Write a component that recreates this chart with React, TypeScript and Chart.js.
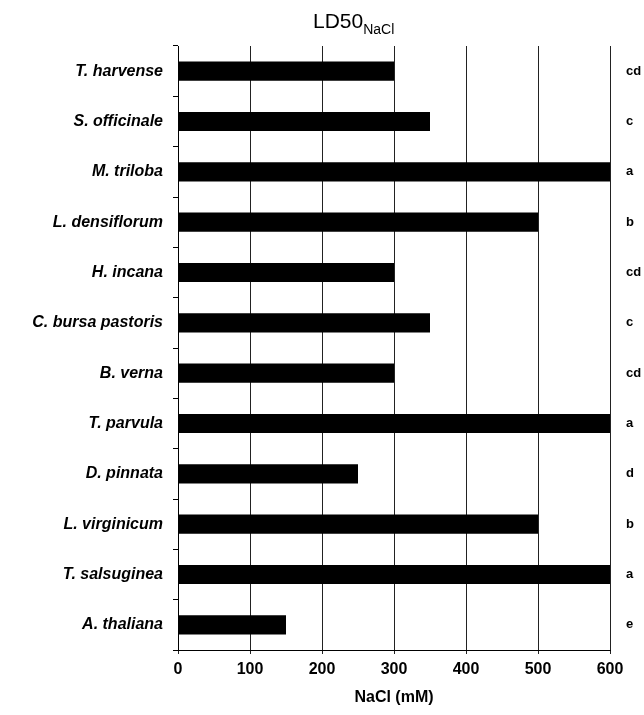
import React, { useEffect, useRef } from "react";
import { Chart, registerables } from "chart.js";

Chart.register(...registerables);

const species = [
  "T. harvense",
  "S. officinale",
  "M. triloba",
  "L. densiflorum",
  "H. incana",
  "C. bursa pastoris",
  "B. verna",
  "T. parvula",
  "D. pinnata",
  "L. virginicum",
  "T. salsuginea",
  "A. thaliana",
];
const ld50Values = [300, 350, 600, 500, 300, 350, 300, 600, 250, 500, 600, 150];
const groupLetters = ["cd", "c", "a", "b", "cd", "c", "cd", "a", "d", "b", "a", "e"];
const xTicks = [0, 100, 200, 300, 400, 500, 600];

const FONT = "'Liberation Sans', Arial, sans-serif";

const titlePlugin = {
  id: "ld50Title",
  afterDraw(chart: any) {
    const ctx = chart.ctx;
    ctx.save();
    ctx.fillStyle = "#000";
    ctx.textBaseline = "alphabetic";
    ctx.textAlign = "left";
    ctx.font = `21px ${FONT}`;
    const main = "LD50";
    const x0 = 313;
    ctx.fillText(main, x0, 28);
    const w = ctx.measureText(main).width;
    ctx.font = `14px ${FONT}`;
    ctx.fillText("NaCl", x0 + w, 34);
    ctx.restore();
  },
};

export default function App() {
  const ref = useRef<HTMLCanvasElement | null>(null);
  useEffect(() => {
    document.body.style.margin = "0";
    document.body.style.overflow = "hidden";
    if (!ref.current) return;
    const chart = new Chart(ref.current, {
      type: "bar",
      data: {
        labels: species,
        datasets: [
          {
            data: ld50Values,
            backgroundColor: "#000",
            borderWidth: 0,
            barPercentage: 0.38,
            categoryPercentage: 1,
            yAxisID: "y",
          },
        ],
      },
      options: {
        indexAxis: "y",
        animation: false,
        responsive: true,
        maintainAspectRatio: false,
        layout: { padding: { top: 46, left: 0, right: 0, bottom: 0 } },
        plugins: {
          legend: { display: false },
          tooltip: { enabled: false },
          title: { display: false },
        },
        scales: {
          x: {
            type: "linear",
            min: 0,
            max: 600,
            afterBuildTicks(scale: any) {
              scale.ticks = xTicks.map((v) => ({ value: v }));
            },
            afterFit(scale: any) {
              scale.height = 65;
            },
            grid: {
              color: "#222",
              lineWidth: 1,
              drawTicks: true,
              tickLength: 4,
            },
            border: { display: true, color: "#000", width: 1 },
            ticks: {
              color: "#000",
              font: { family: FONT, size: 16, weight: "bold" },
              padding: 6,
            },
            title: {
              display: true,
              text: "NaCl (mM)",
              color: "#000",
              font: { family: FONT, size: 16, weight: "bold" },
              padding: { top: 10, bottom: 8 },
            },
          },
          y: {
            type: "category",
            position: "left",
            offset: true,
            afterFit(scale: any) {
              scale.width = 178;
            },
            grid: {
              offset: true,
              drawOnChartArea: false,
              drawTicks: true,
              tickLength: 5,
              color: "#000",
            },
            border: { display: true, color: "#000", width: 1 },
            ticks: {
              color: "#000",
              font: { family: FONT, size: 16, weight: "bold", style: "italic" },
              padding: 10,
            },
          },
          y2: {
            type: "category",
            position: "right",
            labels: groupLetters,
            offset: true,
            afterFit(scale: any) {
              scale.width = 34;
            },
            grid: { display: false, drawTicks: false },
            border: { display: false },
            ticks: {
              color: "#000",
              font: { family: FONT, size: 13, weight: "bold" },
              padding: 16,
            },
          },
        },
      },
      plugins: [titlePlugin],
    } as any);
    return () => chart.destroy();
  }, []);
  return (
    <div style={{ width: 644, height: 715, position: "relative" }}>
      <canvas ref={ref} />
    </div>
  );
}
